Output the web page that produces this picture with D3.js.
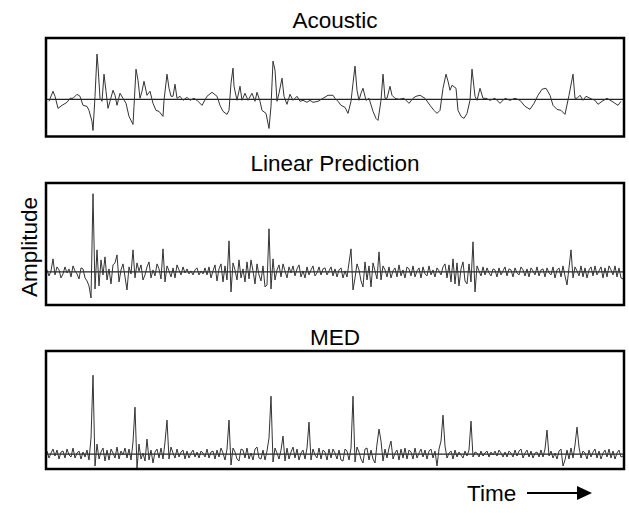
<!DOCTYPE html>
<html>
<head>
<meta charset="utf-8">
<script src="https://cdn.jsdelivr.net/npm/d3@7"></script>
<style>
  body { margin: 0; background: #fff; }
  text { font-family: "Liberation Sans", Arial, sans-serif; fill: #000; }
</style>
</head>
<body>
<div id="chart"></div>
<script>
// acoustic waveform: time (samples) and amplitude
var acousticT = [2, 6, 8, 11, 15, 20, 23, 26, 30, 33, 36, 40, 42, 45, 46, 48, 50, 51, 53, 55, 57, 59, 61, 63, 66, 68, 70, 73, 76, 79, 82, 86, 87, 89, 91, 93, 95, 97, 100, 103, 106, 109, 112, 116, 117, 120, 122, 124, 126, 128, 130, 133, 136, 140, 143, 147, 150, 155, 160, 165, 170, 173, 176, 180, 182, 184, 186, 187, 190, 193, 195, 198, 201, 205, 208, 210, 213, 215, 219, 222, 224, 226, 228, 230, 232, 235, 237, 240, 243, 246, 250, 253, 256, 260, 263, 266, 271, 276, 281, 286, 288, 291, 294, 298, 301, 304, 306, 308, 310, 312, 314, 316, 319, 322, 326, 329, 331, 334, 336, 338, 340, 343, 345, 348, 352, 357, 362, 366, 369, 373, 378, 383, 387, 390, 393, 396, 399, 401, 403, 405, 409, 411, 414, 417, 420, 423, 425, 428, 430, 433, 436, 439, 443, 448, 453, 458, 463, 468, 473, 478, 483, 487, 491, 495, 499, 503, 506, 510, 514, 518, 522, 526, 528, 530, 533, 536, 539, 543, 548, 551, 555, 560, 565, 568, 571, 574, 576];
var acousticA = [-2, 8, 3, -9, -6, -3, 1, 1, 5, 3, -6, -7, -11, -22, -31, 3, 45, 33, 1, -2, 25, 8, -9, -2, 9, 4, -6, 6, 1, -4, -17, -25, -7, 30, 19, 1, 8, 18, 4, 8, -4, -11, -12, -17, -1, 25, 11, 3, 3, 15, 1, 3, -1, 2, -1, 1, -1, -6, 3, 7, 3, -6, -12, -15, -11, 16, 31, 13, -1, 13, -1, 6, -1, 6, -2, 7, -2, -11, -14, -29, -7, 38, 29, -2, 6, 21, 3, -5, 5, -1, 3, -2, -1, -3, -1, -3, -2, 1, 4, 4, 1, -2, -6, -8, -14, -2, 16, 33, 9, -1, 6, 11, -1, 1, -12, -19, -21, -1, 25, 1, 1, 13, 4, 1, 0, 1, -4, 1, 3, 4, 1, -6, -11, -14, -11, 11, 25, 18, 9, 14, 11, -11, -17, -19, -14, -1, 30, 3, -1, 11, 1, 1, -1, 1, -4, 1, -1, 1, -1, -7, -10, -4, 4, 10, 11, 4, -6, -10, -11, -15, 4, 25, 1, 1, 4, -1, 3, 1, -1, -5, -2, 1, -2, -4, -6, -2];

// linear prediction residual, one value every 2 samples
var lpResidual = [
  2, -4, 1, 13, -3, 5, 2, -6, -2, 5,
  -1, 3, -5, 6, 1, -2, -7, 4, 3, -6,
  -9, -14, -26, 78, -17, 22, -14, 12, -3, 15,
  -8, 3, -12, 7, 9, 17, -10, 2, 8, -5,
  -18, 5, -2, 22, -6, 9, 1, 7, -8, -3,
  5, 10, -6, 2, -4, 8, 3, -7, 23, -10,
  6, 1, -5, 4, -6, 7, 2, -3, 5, -1,
  3, -2, 1, -3, 2, 4, -3, 1, -2, 4,
  -3, 5, -6, 1, 7, -9, 3, 8, -10, 6,
  -8, 31, -20, 9, 2, -8, 12, -6, 3, -10,
  10, -7, 12, 1, -12, 8, -3, -9, 6, -15,
  -13, 43, -17, 13, -8, 2, 7, -5, 8, 1,
  -6, 5, -1, 6, -4, 3, 7, -5, 1, -6,
  5, -3, 2, 6, -4, -1, 5, -3, 3, 4,
  -3, 1, 5, -4, 3, -5, 2, 4, -6, 1,
  -5, 9, 23, -18, -6, 8, 2, -9, -15, 10,
  -8, 6, -15, 9, 1, -7, 20, -8, 6, 2,
  -5, 5, -6, 1, 4, -5, 7, -4, 2, -6,
  5, 3, -4, 6, -5, 1, 4, -6, 5, -2,
  -4, 6, -3, 2, -5, 4, 1, -3, 5, 8,
  -6, 7, -10, 13, -12, 9, -14, 3, 10, -9,
  -12, 8, -10, 30, -20, 6, 1, -4, 5, -3,
  4, -1, -4, 3, 2, -5, 4, -3, 1, 5,
  -4, 3, 2, -5, 4, -1, -3, 5, 2, -4,
  3, -5, 4, 1, -3, 5, -4, 2, 3, -5,
  4, -1, -3, 5, -6, 2, 4, -5, 6, -4,
  -13, 4, 22, -6, 5, 1, -4, 6, -5, 4,
  -6, 2, 5, -4, 6, -3, 1, 5, -6, 4,
  -5, 6, 2, -3, 6, -5, 4, -6, -7
];

// minimum entropy deconvolution output, one value every 2 samples
var medOutput = [
  3, -4, 1, 5, -2, 4, -5, 2, 3, -4,
  5, -1, -3, 6, -4, 1, 3, -5, 2, -3,
  4, -6, 16, 79, -12, 10, -5, 2, 6, -7,
  4, -6, 5, 1, -4, 7, -5, 3, -1, 6,
  -4, 5, -6, 12, 47, -14, 10, -5, 1, -7,
  15, -6, 4, -9, 2, 5, -4, 6, -5, 12,
  34, -5, 7, 1, -4, 5, -3, 2, 4, -5,
  3, -4, 1, 4, -3, 2, -4, 3, 1, -3,
  5, -4, 2, 3, -5, 4, -3, 6, 1, -6,
  5, 34, -11, 6, 2, -5, -7, 5, 4, -4,
  6, -5, 1, -6, 5, 7, -4, -5, 4, -6,
  3, 16, 58, -8, 6, 1, -5, 4, 18, -7,
  6, -5, 2, 7, -4, 5, -6, 1, 4, -5,
  6, 32, -6, 5, -1, -4, 6, -5, 4, 2,
  -6, 5, -4, 5, 1, -5, 4, -6, -7, 5,
  3, -6, 6, 58, -8, 7, 2, -5, -9, 5,
  6, -6, 4, -5, -9, 10, 25, 13, -7, 5,
  -4, 6, 13, -5, 1, 4, -6, 5, -4, 6,
  -5, 4, 2, -5, 6, -4, 1, 5, -3, 4,
  -5, 3, 5, -4, 3, -12, 5, 13, 39, 8,
  -4, 1, 3, -5, 4, -3, 2, -1, -4, 3,
  -2, 4, 33, -3, 2, 1, -3, 3, -2, 1,
  3, -3, 2, -1, 3, -2, 4, 1, -3, 2,
  -3, 3, 1, -3, 4, -2, 3, 5, -4, 1,
  4, -3, 3, -4, 1, 2, -3, 4, -3, 5,
  24, -2, 3, -4, 1, -5, 3, 5, -12, -6,
  4, -5, 6, -4, 9, 27, 7, -4, 3, 1,
  -5, 4, -3, 2, 5, -4, 3, -5, 1, 4,
  -3, 5, -4, 3, -5, 1, 4, -3, -2
];

var panelTitles = ["Acoustic", "Linear Prediction", "MED"];
var yLabel = "Amplitude";
var xLabel = "Time";

var width = 629, height = 513;
var svg = d3.select("#chart").append("svg")
  .attr("width", width)
  .attr("height", height);

var x = d3.scaleLinear().domain([0, 576]).range([47, 623]);

var panels = [
  { title: panelTitles[0], titleY: 28, top: 38, bottom: 136.5, domain: [-37, 61],
    points: acousticT.map(function (t, i) { return [t, acousticA[i]]; }) },
  { title: panelTitles[1], titleY: 171, top: 183, bottom: 305, domain: [-33, 88.7],
    points: lpResidual.map(function (v, i) { return [i * 2, v]; }) },
  { title: panelTitles[2], titleY: 345, top: 351, bottom: 469, domain: [-15, 103.3],
    points: medOutput.map(function (v, i) { return [i * 2, v]; }) }
];

panels.forEach(function (p) {
  var y = d3.scaleLinear().domain(p.domain).range([p.bottom, p.top]);
  var g = svg.append("g");

  g.append("text")
    .attr("x", 335)
    .attr("y", p.titleY)
    .attr("text-anchor", "middle")
    .style("font-size", "22.5px")
    .text(p.title);

  // zero line
  g.append("line")
    .attr("x1", 46).attr("x2", 624)
    .attr("y1", y(0)).attr("y2", y(0))
    .attr("stroke", "#222")
    .attr("stroke-width", 1.2);

  var line = d3.line()
    .x(function (d) { return x(d[0]); })
    .y(function (d) { return y(d[1]); });

  g.append("path")
    .datum(p.points)
    .attr("d", line)
    .attr("fill", "none")
    .attr("stroke", "#333")
    .attr("stroke-width", 1);

  g.append("rect")
    .attr("x", 46)
    .attr("y", p.top)
    .attr("width", 578)
    .attr("height", p.bottom - p.top)
    .attr("fill", "none")
    .attr("stroke", "#000")
    .attr("stroke-width", 2.5);
});

svg.append("text")
  .attr("transform", "translate(37,247) rotate(-90)")
  .attr("text-anchor", "middle")
  .style("font-size", "22.5px")
  .text(yLabel);

svg.append("text")
  .attr("x", 467)
  .attr("y", 501)
  .style("font-size", "22.5px")
  .text(xLabel);

svg.append("line")
  .attr("x1", 527).attr("x2", 580)
  .attr("y1", 493).attr("y2", 493)
  .attr("stroke", "#000")
  .attr("stroke-width", 1.8);

svg.append("path")
  .attr("d", "M577,486 L592,493 L577,500 Z")
  .attr("fill", "#000");
</script>
</body>
</html>
